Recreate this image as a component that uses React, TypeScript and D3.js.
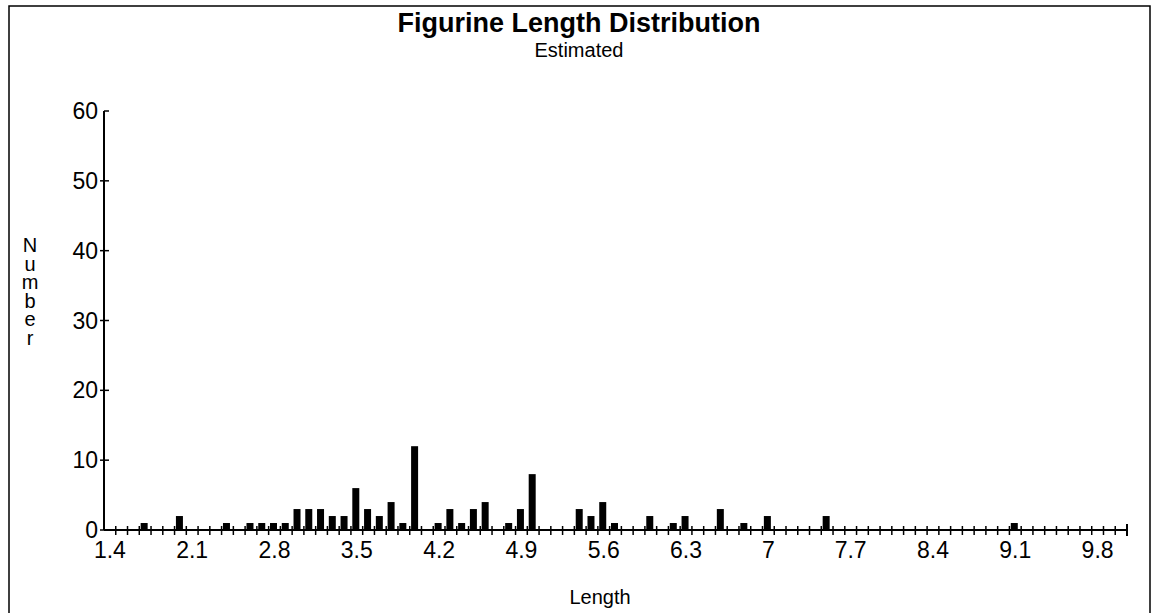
import React from "react";
import * as d3 from "d3";

// length categories on the x axis: 1.4 .. 10.0 in 0.1 steps
const lengthCats = d3.range(14, 101).map((v) => (v / 10).toFixed(1));
const labelCats = ["1.4", "2.1", "2.8", "3.5", "4.2", "4.9", "5.6", "6.3", "7.0", "7.7", "8.4", "9.1", "9.8"];

// counts (only non-zero bins)
const binLengths = [
  "1.7", "2.0", "2.4", "2.6", "2.7", "2.8", "2.9", "3.0", "3.1", "3.2", "3.3", "3.4",
  "3.5", "3.6", "3.7", "3.8", "3.9", "4.0", "4.2", "4.3", "4.4", "4.5", "4.6", "4.8",
  "4.9", "5.0", "5.4", "5.5", "5.6", "5.7", "6.0", "6.2", "6.3", "6.6", "6.8", "7.0",
  "7.5", "9.1",
];
const binCounts = [
  1, 2, 1, 1, 1, 1, 1, 3, 3, 3, 2, 2,
  6, 3, 2, 4, 1, 12, 1, 3, 1, 3, 4, 1,
  3, 8, 3, 2, 4, 1, 2, 1, 2, 3, 1, 2,
  2, 1,
];
const yTicks = [0, 10, 20, 30, 40, 50, 60];

const W = 1158;
const H = 613;
const font = "'Liberation Sans', Arial, sans-serif";

export default function App() {
  const x = d3.scaleBand().domain(lengthCats).range([104, 1127]).padding(0);
  const y = d3.scaleLinear().domain([0, 60]).range([530, 111]);
  const barW = 7;
  const bars = binLengths.map((c, i) => ({ c, v: binCounts[i] }));
  const step = x.step();

  return (
    <svg width={W} height={H} style={{ position: "absolute", left: 0, top: 0, background: "#fff" }}>
      <rect x={0} y={0} width={W} height={H} fill="#fff" />
      {/* frame */}
      <rect x={9} y={6} width={1141} height={640} fill="none" stroke="#000" strokeWidth={1.5} />

      <text x={579} y={32} textAnchor="middle" fontFamily={font} fontWeight="bold" fontSize={27}>
        Figurine Length Distribution
      </text>
      <text x={579} y={57} textAnchor="middle" fontFamily={font} fontSize={20}>
        Estimated
      </text>

      {/* y axis title, letters stacked upright */}
      <text x={30} y={234} fontFamily={font} fontSize={20}
        style={{ writingMode: "vertical-rl", textOrientation: "upright", letterSpacing: "-3.5px" }}>
        Number
      </text>

      {/* bars */}
      {bars.map((b) => (
        <rect key={b.c} x={(x(b.c) as number) + step / 2 - barW / 2 - 1} y={y(b.v)} width={barW}
          height={y(0) - y(b.v)} fill="#000" />
      ))}

      {/* y axis */}
      <line x1={104} x2={104} y1={y(60)} y2={y(0)} stroke="#000" strokeWidth={2} />
      {yTicks.map((t) => (
        <g key={t}>
          <line x1={t === 60 ? 104 : 100} x2={109} y1={y(t)} y2={y(t)} stroke="#000" strokeWidth={1.5} />
          <text x={98} y={y(t) + 8} textAnchor="end" fontFamily={font} fontSize={23}>
            {t}
          </text>
        </g>
      ))}

      {/* x axis */}
      <line x1={104} x2={1127} y1={y(0)} y2={y(0)} stroke="#000" strokeWidth={2} />
      {lengthCats.slice(1).map((c) => (
        <line key={c} x1={x(c)} x2={x(c)} y1={y(0) - 4} y2={y(0) + 5} stroke="#000" strokeWidth={1.5} />
      ))}
      <line x1={1127} x2={1127} y1={y(0) - 6} y2={y(0) + 6} stroke="#000" strokeWidth={2} />
      {labelCats.map((c) => (
        <text key={c} x={(x(c) as number) + step / 2} y={y(0) + 28} textAnchor="middle" fontFamily={font} fontSize={23}>
          {c === "7.0" ? "7" : c}
        </text>
      ))}
      <text x={600} y={604} textAnchor="middle" fontFamily={font} fontSize={20}>
        Length
      </text>
    </svg>
  );
}
